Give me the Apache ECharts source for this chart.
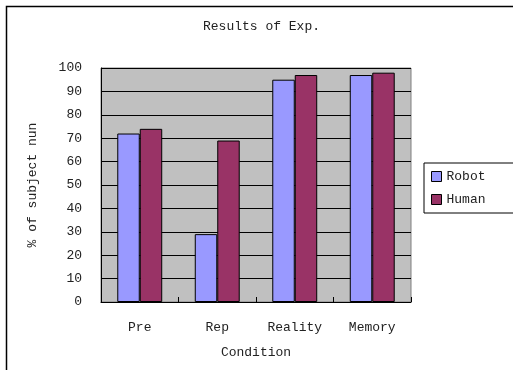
<!DOCTYPE html>
<html>
<head>
<meta charset="utf-8">
<script src="https://cdn.jsdelivr.net/npm/echarts@6/dist/echarts.min.js"></script>
<style>
  html, body { margin: 0; padding: 0; background: #fff; }
  #chart { width: 513px; height: 370px; }
</style>
</head>
<body>
<div id="chart"></div>
<script>
// Experiment results: share of subjects per condition
const categories = ['Pre', 'Rep', 'Reality', 'Memory'];
const robotValues = [72, 29, 95, 97];
const humanValues = [74, 69, 97, 98];
const yTicks = { min: 0, max: 100, interval: 10 };

const FONT = 'Liberation Mono';
const TEXT_COLOR = '#222';

const chart = echarts.init(document.getElementById('chart'), null, { renderer: 'canvas' });

chart.setOption({
  animation: false,
  backgroundColor: '#fff',
  textStyle: { fontFamily: FONT, color: TEXT_COLOR },
  title: {
    text: 'Results of Exp.',
    left: 203,
    top: 20,
    padding: 0,
    textStyle: { fontFamily: FONT, fontSize: 13, fontWeight: 'normal', color: TEXT_COLOR }
  },
  graphic: [{
    type: 'rect',
    shape: { x: 6.5, y: 6.5, width: 600, height: 400 },
    style: { fill: 'none', stroke: '#000', lineWidth: 1.5 },
    silent: true,
    z: 0
  }],
  legend: {
    orient: 'vertical',
    left: 424,
    top: 163,
    padding: [7, 30, 7, 7],
    itemGap: 10,
    itemWidth: 10,
    itemHeight: 10,
    icon: 'rect',
    backgroundColor: '#fff',
    borderColor: '#000',
    borderWidth: 1,
    textStyle: { fontFamily: FONT, fontSize: 13, color: TEXT_COLOR },
    itemStyle: { borderColor: '#000', borderWidth: 1 },
    data: ['Robot', 'Human']
  },
  grid: {
    left: 101,
    right: 102,
    top: 68,
    bottom: 68,
    show: true,
    backgroundColor: '#c0c0c0',
    borderColor: '#808080',
    borderWidth: 1
  },
  xAxis: {
    type: 'category',
    data: categories,
    name: 'Condition',
    nameLocation: 'middle',
    nameGap: 44,
    nameTextStyle: { fontFamily: FONT, fontSize: 13, color: TEXT_COLOR },
    axisLine: { lineStyle: { color: '#000', width: 1 } },
    axisTick: { show: true, inside: true, length: 5, alignWithLabel: false, lineStyle: { color: '#000' } },
    axisLabel: { margin: 19, fontFamily: FONT, fontSize: 13, color: TEXT_COLOR },
    splitLine: { show: false }
  },
  yAxis: {
    type: 'value',
    min: yTicks.min,
    max: yTicks.max,
    interval: yTicks.interval,
    name: '% of subject nun',
    nameLocation: 'middle',
    nameGap: 62,
    nameRotate: 90,
    nameTextStyle: { fontFamily: FONT, fontSize: 13, color: TEXT_COLOR },
    axisLine: { show: true, lineStyle: { color: '#000', width: 1 } },
    axisTick: { show: true, inside: true, length: 6, lineStyle: { color: '#000' } },
    axisLabel: { margin: 19, fontFamily: FONT, fontSize: 13, color: TEXT_COLOR },
    splitLine: { show: true, lineStyle: { color: '#000', width: 1 } }
  },
  series: [
    {
      name: 'Robot',
      type: 'bar',
      data: robotValues,
      barGap: '0%',
      barCategoryGap: '42%',
      itemStyle: { color: '#9999ff', borderColor: '#000', borderWidth: 1 }
    },
    {
      name: 'Human',
      type: 'bar',
      data: humanValues,
      barGap: '0%',
      barCategoryGap: '42%',
      itemStyle: { color: '#993366', borderColor: '#000', borderWidth: 1 }
    }
  ]
});
</script>
</body>
</html>
